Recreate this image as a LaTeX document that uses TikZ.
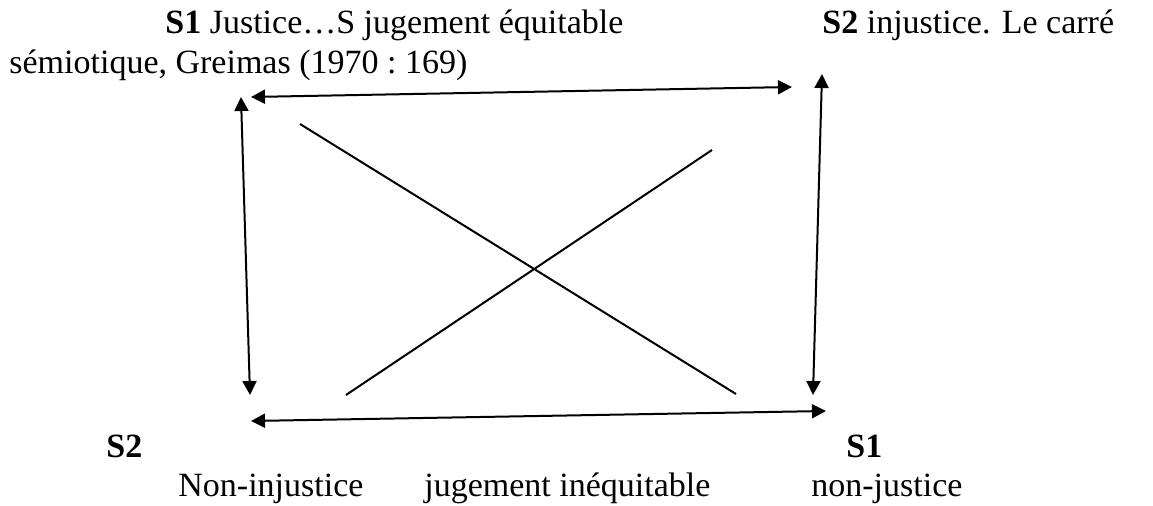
\documentclass[tikz,border=0pt]{standalone}
\usepackage{fontspec}
\setmainfont{Liberation Serif}
\usetikzlibrary{arrows.meta}
\begin{document}
\begin{tikzpicture}[x=0.5pt,y=-0.5pt,
  lbl/.style={anchor=base west,inner sep=0pt,font=\fontsize{17}{20}\selectfont},
  link/.style={line width=1pt,{Triangle[length=7pt,width=7pt]}-{Triangle[length=7pt,width=7pt]}},
  cross/.style={line width=1pt}]
\useasboundingbox (0,0) rectangle (1153,506);
% text
\node[lbl] (t1) at (165,34) {\textbf{S1} Justice…S jugement équitable};
\node[lbl] (t2) at (822,34) {\textbf{S2} injustice. Le carré};
\node[lbl] (t3) at (9,74) {sémiotique, Greimas (1970~:~169)};
\node[lbl] (b1) at (106,458) {\textbf{S2}};
\node[lbl] (b2) at (846,458) {\textbf{S1}};
\node[lbl] (b3) at (178,497) {Non-injustice};
\node[lbl] (b4) at (424,497) {jugement inéquitable};
\node[lbl] (b5) at (811,497) {non-justice};
% corner points
\coordinate (htl) at (251,97);
\coordinate (htr) at (792,87);
\coordinate (hbl) at (251,421);
\coordinate (hbr) at (826,411);
\coordinate (vlt) at (241,97);
\coordinate (vlb) at (250,395);
\coordinate (vrt) at (822,74);
\coordinate (vrb) at (813,395);
\coordinate (d1a) at (300,124);
\coordinate (d1b) at (736,394);
\coordinate (d2a) at (346,395);
\coordinate (d2b) at (712,150);
% connectors
\draw[link] (htl) -- (htr);
\draw[link] (hbl) -- (hbr);
\draw[link] (vlt) -- (vlb);
\draw[link] (vrt) -- (vrb);
\draw[cross] (d1a) -- (d1b);
\draw[cross] (d2a) -- (d2b);
\end{tikzpicture}
\end{document}
